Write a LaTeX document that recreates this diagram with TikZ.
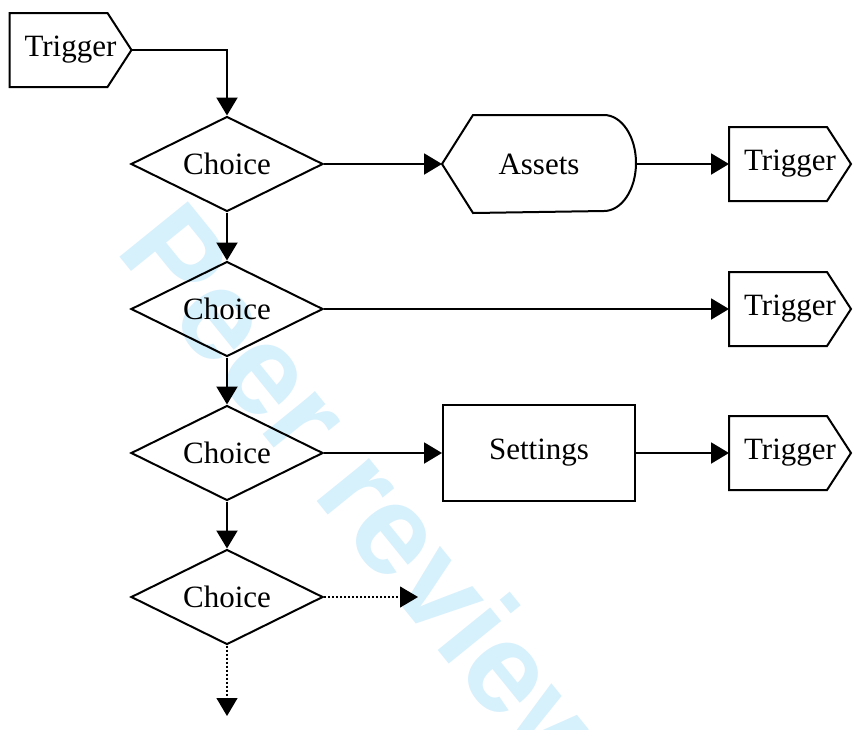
\documentclass[tikz,border=0pt]{standalone}
\usepackage{fontspec}
\setmainfont{Liberation Serif}
\newfontfamily\wmfont{Liberation Sans}
\usetikzlibrary{arrows.meta,shapes.geometric,positioning}
\definecolor{wm_blue}{RGB}{214,240,252}

\begin{document}
\begin{tikzpicture}[x=0.5pt, y=-0.5pt, line width=1pt,
  font=\fontsize{15.5}{18}\selectfont,
  >={Triangle[length=9pt,width=10.5pt]},
  choice/.style={diamond, draw, aspect=4, minimum width=96pt, minimum height=47.5pt, inner sep=0pt},
  trig/.style={rectangle, minimum width=60pt, minimum height=36pt, inner sep=0pt},
  box/.style={rectangle, draw, minimum width=96pt, minimum height=48pt},
  hold/.style={rectangle, minimum width=96pt, minimum height=48pt},
  dots/.style={dash pattern=on 1pt off 1pt, line width=0.6pt}]

\useasboundingbox (0,0) rectangle (857,729);

% watermark
\begin{scope}
  \clip (0,0) rectangle (857,729);
  \node[wm_blue, rotate=-51, anchor=base west, inner sep=0pt,
    font=\wmfont\bfseries\fontsize{64}{64}\selectfont] (wm) at (114,250) {Peer review};
\end{scope}

% main column
\node[trig] (t1) at (70.5,50) {Trigger};
\node[choice] (c1) at (227,164) {Choice};
\node[choice] (c2) at (227,309) {Choice};
\node[choice] (c3) at (227,453) {Choice};
\node[choice] (c4) at (227,597) {Choice};

% right side
\node[hold] (assets) at (539,164) {Assets};
\draw (assets.west) -- ([xshift=15.5pt]assets.north west)
  -- ([xshift=-16pt]assets.north east)
  arc[start angle=90, end angle=-90, x radius=16pt, y radius=24pt]
  -- ([xshift=15.5pt]assets.south west) -- cycle;
\node[box] (settings) at (539,453) {Settings};

\node[trig] (t2) at (790,164) {Trigger};
\node[trig] (t3) at (790,309) {Trigger};
\node[trig] (t4) at (790,453) {Trigger};

% trigger outlines
\foreach \n in {t1,t2,t3,t4}
  \draw (\n.north west) -- ([xshift=-12pt]\n.north east) -- (\n.east)
    -- ([xshift=-12pt]\n.south east) -- (\n.south west) -- cycle;

\coordinate (e1) at (418,597);
\coordinate (e2) at (227,716);

% connectors
\draw[->] (t1.east) -| (c1.north);
\draw[->] (c1.south) -- (c2.north);
\draw[->] (c2.south) -- (c3.north);
\draw[->] (c3.south) -- (c4.north);
\draw[->] (c1.east) -- (assets.west);
\draw[->] (assets.east) -- (t2.west);
\draw[->] (c2.east) -- (t3.west);
\draw[->] (c3.east) -- (settings.west);
\draw[->] (settings.east) -- (t4.west);
\draw[->, dots] (c4.east) -- (e1);
\draw[->, dots] (c4.south) -- (e2);
\end{tikzpicture}
\end{document}
